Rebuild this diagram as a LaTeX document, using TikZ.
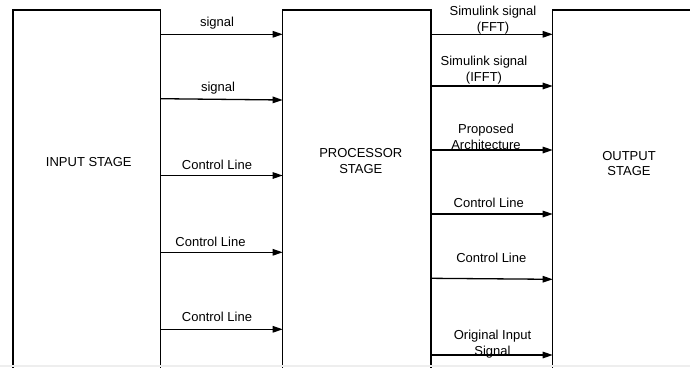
\documentclass[tikz,border=0pt]{standalone}
\usepackage{fontspec}
\setmainfont{Liberation Sans}
\usetikzlibrary{arrows.meta,calc}
\definecolor{strip}{RGB}{238,238,238}
\begin{document}
\begin{tikzpicture}[x=1pt,y=-1pt,
  stagebox/.style={draw,line width=1.3pt,inner sep=0pt,outer sep=0pt,anchor=north west},
  conn/.style={line width=1.3pt,-{Triangle[length=10pt,width=6.5pt]}},
  lbl/.style={font=\fontsize{13}{15.8}\selectfont,align=center,inner sep=0pt},
]
\useasboundingbox (0,0) rectangle (690,367);
% stage boxes (open below the page edge)
\node[stagebox,minimum width=147.7pt,minimum height=380pt] (in) at (13,10) {};
\node[stagebox,minimum width=148.3pt,minimum height=380pt] (proc) at (282.7,10) {};
\node[stagebox,minimum width=160pt,minimum height=380pt] (out) at (552.7,10) {};
% stage texts
\node[lbl] (tin) at (88.8,162.3) {INPUT STAGE};
\node[lbl] (tproc) at (360.8,161) {PROCESSOR\\STAGE};
\node[lbl] (tout) at (629,163.5) {OUTPUT\\STAGE};
% input -> processor
\draw[conn] ([yshift=-24.3pt]in.north east) -- ([yshift=-24.3pt]proc.north west);
\draw[conn] ([yshift=-88.7pt]in.north east) -- ([yshift=-90pt]proc.north west);
\draw[conn] ([yshift=-165.5pt]in.north east) -- ([yshift=-165.5pt]proc.north west);
\draw[conn] ([yshift=-242.3pt]in.north east) -- ([yshift=-242.3pt]proc.north west);
\draw[conn] ([yshift=-319.3pt]in.north east) -- ([yshift=-319.3pt]proc.north west);
\node[lbl] (l1) at (217,23.3) {signal};
\node[lbl] (l2) at (218,88.3) {signal};
\node[lbl] (l3) at (217,165) {Control Line};
\node[lbl] (l4) at (210.5,242.3) {Control Line};
\node[lbl] (l5) at (217,316.7) {Control Line};
% processor -> output
\draw[conn] ([yshift=-24.3pt]proc.north east) -- ([yshift=-24.3pt]out.north west);
\draw[conn] ([yshift=-76pt]proc.north east) -- ([yshift=-76pt]out.north west);
\draw[conn] ([yshift=-140pt]proc.north east) -- ([yshift=-140pt]out.north west);
\draw[conn] ([yshift=-204pt]proc.north east) -- ([yshift=-204pt]out.north west);
\draw[conn] ([yshift=-268.3pt]proc.north east) -- ([yshift=-269.3pt]out.north west);
\draw[conn] ([yshift=-345pt]proc.north east) -- ([yshift=-345pt]out.north west);
\node[lbl] (r1) at (493,20) {Simulink signal\\(FFT)};
\node[lbl] (r2) at (484,70) {Simulink signal\\(IFFT)};
\node[lbl] (r3) at (486,137) {Proposed\\Architecture};
\node[lbl] (r4) at (488.7,203.3) {Control Line};
\node[lbl] (r5) at (491.3,257.7) {Control Line};
\node[lbl] (r6) at (492.5,344) {Original Input\\Signal};
% faint strip at the bottom edge
\fill[strip] (0,365.3) rectangle (690,367);
\end{tikzpicture}
\end{document}
